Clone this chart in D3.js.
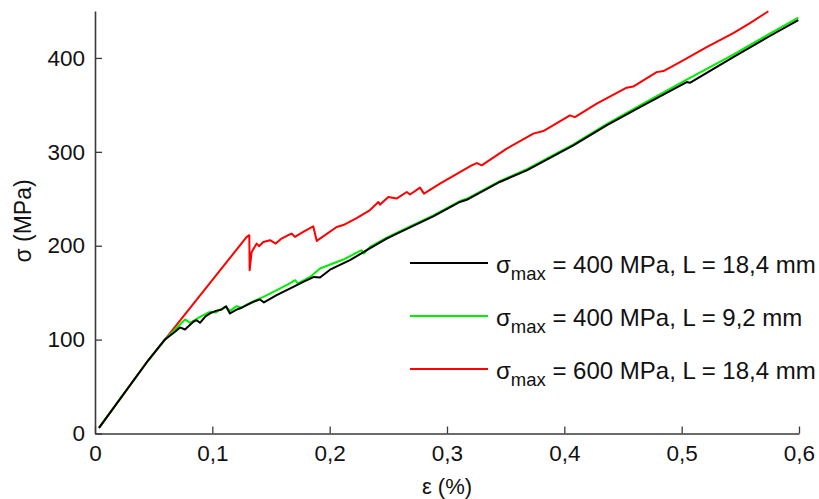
<!DOCTYPE html>
<html><head><meta charset="utf-8">
<script src="https://cdn.jsdelivr.net/npm/d3@7"></script>
<style>
body{margin:0;background:#fff;}
svg text{font-family:"Liberation Sans",Arial,sans-serif;fill:#111;}
</style></head><body>
<svg id="c" width="819" height="499"></svg>
<script>
const xTicks=[0,0.1,0.2,0.3,0.4,0.5,0.6];
const yTicks=[0,100,200,300,400];
const seriesNames=["σmax = 400 MPa, L = 18,4 mm","σmax = 400 MPa, L = 9,2 mm","σmax = 600 MPa, L = 18,4 mm"];
const seriesColors=["#000000","#00ee00","#ff0000"];
const black=[[0.0034,5.9],[0.0454,78],[0.0597,100.2],[0.0682,108.3],[0.0724,113],[0.0767,110.8],[0.0838,119],[0.0866,120.7],[0.0895,117.9],[0.0938,124.3],[0.098,127.9],[0.103,130.6],[0.108,132],[0.1117,135.6],[0.115,127.9],[0.1207,132],[0.125,134],[0.1293,136.7],[0.135,140.2],[0.1406,142.8],[0.144,139.6],[0.1548,147.3],[0.166,154.4],[0.1775,161.5],[0.1866,166.8],[0.1918,166.2],[0.2003,174.5],[0.2173,184.6],[0.2316,195.2],[0.2486,207.6],[0.26,214.5],[0.2883,231.2],[0.311,246.6],[0.3168,248.9],[0.345,267.9],[0.368,280.3],[0.4077,306.9],[0.436,328.2],[0.4645,347.7],[0.5043,374.3],[0.507,373.5],[0.544,400.9],[0.5725,421.5],[0.5994,440.3]];
const green=[[0.0034,5.9],[0.0454,78],[0.0597,100.2],[0.0767,121.5],[0.081,117.9],[0.0895,124.3],[0.098,129.6],[0.103,129],[0.1108,134.9],[0.115,130.6],[0.1207,135.6],[0.125,134],[0.132,139.2],[0.1435,145.5],[0.155,152.7],[0.166,159.8],[0.1705,163.3],[0.173,159.8],[0.1833,166.8],[0.1918,175.7],[0.2116,185.3],[0.2273,195.2],[0.229,191.7],[0.2344,198.7],[0.2486,208.5],[0.26,215.5],[0.2883,232.3],[0.311,247.6],[0.3168,250],[0.345,268.8],[0.368,281.5],[0.4077,308],[0.436,329.5],[0.4645,349.5],[0.5043,377],[0.544,403.5],[0.5725,424],[0.5994,443]];
const red=[[0.0034,5.9],[0.0454,78],[0.0597,100.2],[0.1293,209.4],[0.1315,211.2],[0.1318,173.9],[0.1335,193.4],[0.1378,202.3],[0.1398,199.5],[0.1435,204],[0.1492,205.9],[0.154,202.3],[0.159,207.6],[0.1647,211.2],[0.1675,213],[0.1704,209.4],[0.1775,214.7],[0.186,220.7],[0.189,205.1],[0.206,220],[0.2116,222],[0.223,229.5],[0.2344,238],[0.2415,246.6],[0.243,243.8],[0.25,252],[0.257,250.2],[0.2657,257.2],[0.2685,254.5],[0.277,261.9],[0.2804,255.5],[0.294,266.2],[0.311,278.5],[0.321,285.6],[0.3255,288],[0.3296,285.6],[0.3509,303.4],[0.3736,319.4],[0.3821,322.1],[0.4048,338.8],[0.409,337],[0.4276,351.3],[0.4531,368.3],[0.4587,369.5],[0.4787,384.9],[0.4845,386],[0.4986,395.5],[0.5213,411.5],[0.544,426.4],[0.5582,437],[0.5739,449.7]];

const svg=d3.select("#c");
const x=d3.scaleLinear().domain([0,0.6]).range([95,799]);
const y=d3.scaleLinear().domain([0,450]).range([433.5,11]);
const fmt=d=>d===0?"0":String(+d.toFixed(1)).replace(".",",");
const axCol="#3a3a3a";

const line=d3.line().x(d=>x(d[0])).y(d=>y(d[1]));
const data=[black,green,red];
[2,1,0].forEach(i=>{
  svg.append("path").datum(data[i]).attr("d",line).attr("fill","none")
    .attr("stroke",seriesColors[i]).attr("stroke-width",2).attr("stroke-linejoin","round");
});

const gx=svg.append("g").attr("transform","translate(0,433.5)")
  .call(d3.axisBottom(x).tickValues(xTicks).tickFormat(fmt).tickSizeInner(-7).tickSizeOuter(0).tickPadding(12));
const gy=svg.append("g").attr("transform","translate(95,0)")
  .call(d3.axisLeft(y).tickValues(yTicks).tickFormat(d=>d).tickSizeInner(-7).tickSizeOuter(0).tickPadding(10));
[gx,gy].forEach(g=>{
  g.select(".domain").attr("stroke",axCol).attr("stroke-width",1.6);
  g.selectAll(".tick line").attr("stroke",axCol).attr("stroke-width",1.3);
  g.selectAll(".tick text").attr("font-size",22.5).attr("fill","#111").style("font-family","'Liberation Sans',Arial,sans-serif");
});

svg.append("text").attr("x",447).attr("y",494).attr("text-anchor","middle").attr("font-size",22).text("ε (%)");
svg.append("text").attr("transform","translate(31,221) rotate(-90)").attr("text-anchor","middle").attr("font-size",23).text("σ (MPa)");

const legY=[263,316,369];
const legend=svg.append("g");
seriesNames.forEach((name,i)=>{
  legend.append("line").attr("x1",410).attr("x2",488).attr("y1",legY[i]).attr("y2",legY[i])
    .attr("stroke",seriesColors[i]).attr("stroke-width",2.2);
  const t=legend.append("text").attr("x",496).attr("y",legY[i]+10).attr("font-size",24);
  const rest=name.replace("σmax","");
  t.append("tspan").text("σ");
  t.append("tspan").attr("font-size",18.5).attr("dy",7).text("max");
  t.append("tspan").attr("dy",-7).text(rest);
});
</script></body></html>
